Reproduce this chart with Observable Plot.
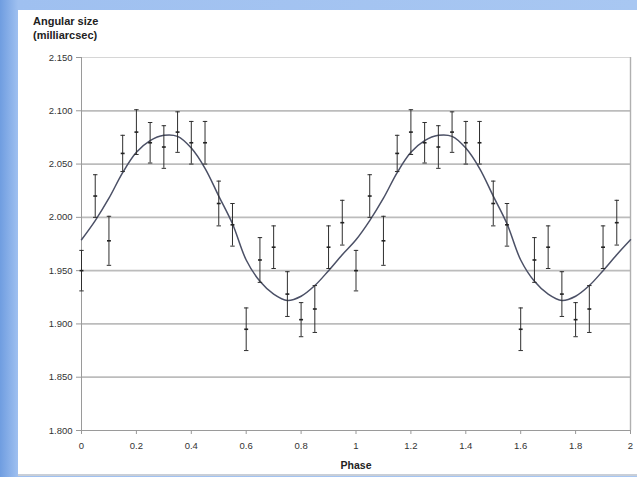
<!DOCTYPE html>
<html>
<head>
<meta charset="utf-8">
<script src="https://cdn.jsdelivr.net/npm/d3@7"></script>
<script src="https://cdn.jsdelivr.net/npm/@observablehq/plot@0.6"></script>
<style>
  html, body { margin: 0; padding: 0; }
  body {
    width: 637px; height: 477px; position: relative; overflow: hidden;
    background: linear-gradient(to right, #6f9de0 0px, #9fc0f0 18px, #a8c7f2 100%);
    font-family: "Liberation Sans", Arial, sans-serif;
  }
  #panel {
    position: absolute; left: 18px; top: 10px; width: 619px; height: 464px;
    background: #ffffff; border-bottom: 2px solid #c9cfd8;
  }
  #title {
    position: absolute; left: 33px; top: 14px; font-size: 11px; font-weight: bold;
    line-height: 14px; color: #222;
  }
  #chart { position: absolute; left: 0; top: 0; }
</style>
</head>
<body>
<div id="panel"></div>
<div id="title">Angular size<br>(milliarcsec)</div>
<div id="chart"></div>
<script>
// Folded angular-diameter measurements over one pulsation cycle
const phase = [0, 0.05, 0.10, 0.15, 0.20, 0.25, 0.30, 0.35, 0.40, 0.45,
               0.50, 0.55, 0.60, 0.65, 0.70, 0.75, 0.80, 0.85, 0.90, 0.95];
const angularSize = [1.950, 2.020, 1.978, 2.060, 2.080, 2.070, 2.066, 2.080, 2.070, 2.070,
                     2.013, 1.993, 1.895, 1.960, 1.972, 1.928, 1.904, 1.914, 1.972, 1.995];
const sizeError = [0.019, 0.020, 0.023, 0.017, 0.021, 0.019, 0.020, 0.019, 0.020, 0.020,
                   0.021, 0.020, 0.020, 0.021, 0.020, 0.021, 0.016, 0.022, 0.020, 0.021];

// Fitted pulsation model over one cycle
const modelPhase = [0, 0.05, 0.10, 0.15, 0.20, 0.25, 0.30, 0.35, 0.40, 0.45, 0.50,
                    0.55, 0.60, 0.65, 0.70, 0.75, 0.80, 0.85, 0.90, 0.95, 1.00];
const modelSize = [1.979, 1.997, 2.018, 2.042, 2.061, 2.072, 2.077, 2.076, 2.065, 2.046, 2.020,
                   1.994, 1.960, 1.940, 1.928, 1.922, 1.926, 1.936, 1.950, 1.965, 1.979];

const cycles = [0, 1];
const yTicks = [1.80, 1.85, 1.90, 1.95, 2.00, 2.05, 2.10, 2.15];
const xTicks = [0, 0.2, 0.4, 0.6, 0.8, 1, 1.2, 1.4, 1.6, 1.8, 2];

// Two cycles: the measurements are plotted twice
const points = cycles.flatMap(c => phase.map((p, i) => ({
  phase: p + c, size: angularSize[i], lo: angularSize[i] - sizeError[i], hi: angularSize[i] + sizeError[i]
})));
const model = cycles.flatMap(c => modelPhase.map((p, i) => ({phase: p + c, size: modelSize[i]})))
  .filter((d, i, a) => i === 0 || d.phase !== a[i - 1].phase);

// short horizontal dash used for error-bar caps and centre marks
const dash = {draw(ctx, size) { const r = Math.sqrt(size) / 2; ctx.moveTo(-r, 0); ctx.lineTo(r, 0); }};

const chart = Plot.plot({
  width: 637, height: 477,
  marginLeft: 81, marginRight: 7, marginTop: 57, marginBottom: 47,
  style: {background: "transparent", fontFamily: "Liberation Sans, Arial, sans-serif", fontSize: "9.5px", color: "#333"},
  x: {domain: [0, 2], ticks: xTicks, tickFormat: d3.format("~g"), label: null},
  y: {domain: [1.80, 2.15], ticks: yTicks, tickFormat: d3.format(".3f"), label: null},
  marks: [
    Plot.ruleY(yTicks.slice(1, -1), {stroke: "#bcbcbc", strokeWidth: 1.8}),
    Plot.ruleY([2.15], {stroke: "#d6d6d6", strokeWidth: 1.2}),
    Plot.ruleX([2], {stroke: "#b0b0b0", strokeWidth: 1.4}),
    Plot.ruleY([1.80], {stroke: "#9a9a9a", strokeWidth: 1}),
    Plot.ruleX([0], {stroke: "#9a9a9a", strokeWidth: 1}),
    Plot.axisY({ticks: yTicks, tickFormat: d3.format(".3f"), tickSize: 5, tickPadding: 4, stroke: "#999", fill: "#333"}),
    Plot.axisX({ticks: xTicks, tickFormat: d3.format("~g"), tickSize: 4, tickPadding: 8, stroke: "#999", fill: "#333"}),
    Plot.line(model, {x: "phase", y: "size", curve: "catmull-rom", stroke: "#4b5066", strokeWidth: 1.5}),
    Plot.ruleX(points, {x: "phase", y1: "lo", y2: "hi", stroke: "#2e2e2e", strokeWidth: 1}),
    Plot.dot(points, {x: "phase", y: "lo", symbol: dash, r: 2.5, stroke: "#2e2e2e", strokeWidth: 1}),
    Plot.dot(points, {x: "phase", y: "hi", symbol: dash, r: 2.5, stroke: "#2e2e2e", strokeWidth: 1}),
    Plot.dot(points, {x: "phase", y: "size", symbol: dash, r: 2.2, stroke: "#222", strokeWidth: 1.6}),
    Plot.text(["Phase"], {frameAnchor: "bottom", dy: 38, fontWeight: "bold", fontSize: 10.5, fill: "#222"})
  ]
});
document.getElementById("chart").appendChild(chart);
</script>
</body>
</html>
